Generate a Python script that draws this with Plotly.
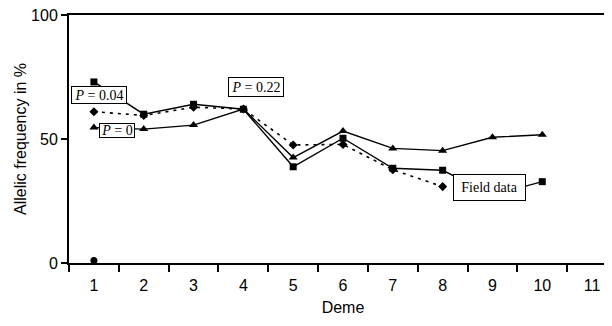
import plotly.graph_objects as go

demes = ["1", "2", "3", "4", "5", "6", "7", "8", "9", "10", "11"]

# Series values (allelic frequency, %)
square_x = ["1", "2", "3", "4", "5", "6", "7", "8", "9", "10"]
square_y = [73.0, 60.0, 64.0, 62.0, 38.8, 50.3, 38.2, 37.4, 27.4, 32.8]

diamond_x = ["1", "2", "3", "4", "5", "6", "7", "8"]
diamond_y = [61.0, 59.5, 62.8, 62.1, 47.6, 47.8, 37.6, 30.8]

triangle_x = ["1", "2", "3", "4", "5", "6", "7", "8", "9", "10"]
triangle_y = [54.6, 54.0, 55.6, 62.1, 42.5, 53.2, 46.2, 45.3, 50.7, 51.7]

circle_x = ["1"]
circle_y = [1.0]

y_ticks = [0, 50, 100]

fig = go.Figure()

fig.add_trace(go.Scatter(
    x=diamond_x, y=diamond_y, mode="lines+markers",
    line=dict(color="black", width=1.6, dash="3px,5px"),
    marker=dict(symbol="diamond", size=7, color="black"),
    showlegend=False))

fig.add_trace(go.Scatter(
    x=triangle_x, y=triangle_y, mode="lines+markers",
    line=dict(color="black", width=1.4),
    marker=dict(symbol="triangle-up", size=8, color="black"),
    showlegend=False))

fig.add_trace(go.Scatter(
    x=square_x, y=square_y, mode="lines+markers",
    line=dict(color="black", width=1.4),
    marker=dict(symbol="square", size=7, color="black"),
    showlegend=False))

fig.add_trace(go.Scatter(
    x=circle_x, y=circle_y, mode="markers",
    marker=dict(symbol="circle", size=7, color="black"),
    showlegend=False))

box_font = dict(family="Liberation Serif", size=14, color="black")
boxes = [
    ("<i>P</i> = 0.04", 0.10, 67.9, 54, 16),
    ("<i>P</i> = 0", 0.46, 53.6, 34, 13),
    ("<i>P</i> = 0.22", 3.26, 71.1, 54, 18),
    ("Field data", 7.94, 30.6, 71, 25),
]
for text, ax, ay, w, h in boxes:
    fig.add_annotation(
        x=ax, y=ay, xref="x", yref="y", text=text, showarrow=False,
        font=box_font, bgcolor="white", bordercolor="black", borderwidth=1,
        borderpad=0, width=w, height=h, align="center", valign="middle")

fig.update_layout(
    width=612, height=326,
    margin=dict(l=61, r=3, t=7, b=71),
    plot_bgcolor="white", paper_bgcolor="white",
    font=dict(family="Liberation Sans", size=16, color="black"),
)

fig.update_xaxes(
    type="category", categoryorder="array", categoryarray=demes,
    range=[-0.5, 10.5], automargin=False,
    showline=True, linecolor="black", linewidth=2, mirror=True,
    ticks="outside", tickson="boundaries", ticklen=7, tickwidth=1.5, tickcolor="black",
    ticklabelstandoff=7,
    showgrid=False, zeroline=False,
    title=dict(text="Deme", font=dict(size=16), standoff=9),
)

fig.update_yaxes(
    range=[0, 100], tickvals=y_ticks, automargin=False,
    ticklabeloverflow="allow",
    showline=True, linecolor="black", linewidth=2,
    ticks="outside", ticklen=6, tickwidth=1.5, tickcolor="black",
    showgrid=False, zeroline=False,
    title=dict(text="Allelic frequency in %", font=dict(size=16), standoff=0),
)

fig.write_html("out.html")
